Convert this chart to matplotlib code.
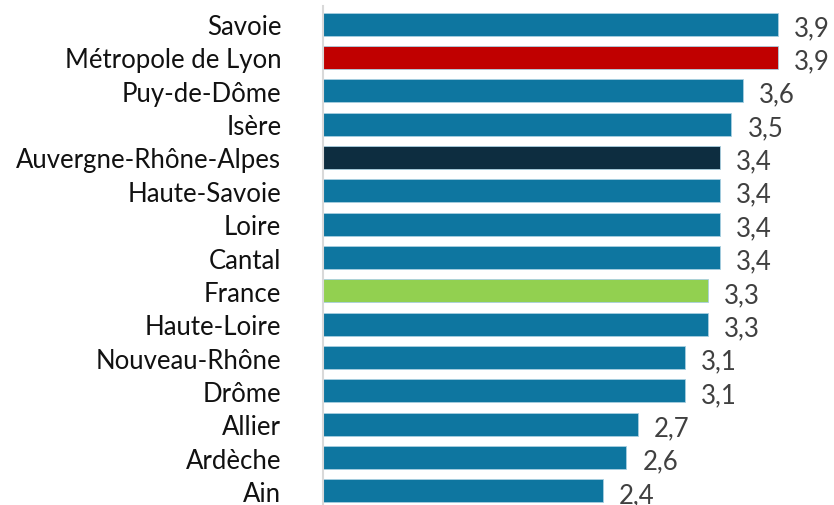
import matplotlib.pyplot as plt

# données
territoires = [
    "Savoie", "Métropole de Lyon", "Puy-de-Dôme", "Isère",
    "Auvergne-Rhône-Alpes", "Haute-Savoie", "Loire", "Cantal",
    "France", "Haute-Loire", "Nouveau-Rhône", "Drôme",
    "Allier", "Ardèche", "Ain",
]
valeurs = [3.9, 3.9, 3.6, 3.5, 3.4, 3.4, 3.4, 3.4, 3.3, 3.3, 3.1, 3.1, 2.7, 2.6, 2.4]

BLEU = "#0e76a0"
couleurs_speciales = {
    "Métropole de Lyon": "#c00000",
    "Auvergne-Rhône-Alpes": "#0d2d40",
    "France": "#92d050",
}
couleurs = [couleurs_speciales.get(t, BLEU) for t in territoires]

plt.rcParams["font.family"] = ["Lato", "DejaVu Sans"]

fig = plt.figure(figsize=(8.34, 5.06), dpi=100)
ax = fig.add_axes([323 / 834, 0, 511 / 834, 1])

y = list(range(len(territoires)))
ax.barh(y, valeurs, height=0.69, color=couleurs,
        edgecolor="#a8cfe0", linewidth=0.6)

for yi, v in zip(y, valeurs):
    ax.annotate(f"{v:.1f}".replace(".", ","), xy=(v, yi),
                xytext=(11.5, -2.5), textcoords="offset points",
                va="center", ha="left", fontsize=18.5, color="#404040")

ax.set_xlim(0, 511 / 116.7)
ax.set_ylim(14.42, -0.75)
ax.set_yticks(y)
ax.set_yticklabels(territoires, fontsize=18.5, color="#111111")
ax.tick_params(axis="y", length=0, pad=30)
ax.set_xticks([])

for s in ["top", "right", "bottom"]:
    ax.spines[s].set_visible(False)
ax.spines["left"].set_color("#d9d9d9")
ax.spines["left"].set_linewidth(1.5)
ax.spines["left"].set_bounds(14.42, -0.54)

fig.savefig("out.png", dpi=100)
